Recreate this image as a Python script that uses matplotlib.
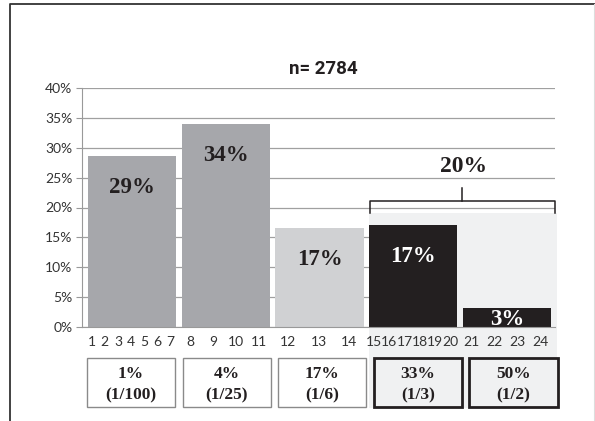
import matplotlib.pyplot as plt
import matplotlib.transforms as mtransforms
from matplotlib.patches import Rectangle
from matplotlib.lines import Line2D
import numpy as np

# survey data
n_total = 2784
shares = [28.7, 34.0, 16.6, 17.1, 3.2]
scale_points = [[1, 2, 3, 4, 5, 6, 7], [8, 9, 10, 11], [12, 13, 14],
                [15, 16, 17, 18, 19, 20], [21, 22, 23, 24]]
box_pct = ['1%', '4%', '17%', '33%', '50%']
box_odds = ['(1/100)', '(1/25)', '(1/6)', '(1/3)', '(1/2)']

bar_colors = ['#a6a7ab', '#a6a7ab', '#d0d1d3', '#231f20', '#231f20']
label_colors = ['#231f20', '#231f20', '#231f20', 'white', 'white']
dark = '#231f20'
light_bg = '#f0f1f2'

sans = ['Lato', 'DejaVu Sans']
serif = ['Liberation Serif', 'DejaVu Serif']

fig = plt.figure(figsize=(5.95, 4.21), dpi=100)
ax = fig.add_axes([82/595, 1 - 327/421, (555 - 82)/595, (327 - 88)/421])

x = np.arange(len(shares))
ax.set_xlim(-0.533, 4.512)
ax.set_ylim(0, 40)

# shaded block behind the last two categories
trans = mtransforms.blended_transform_factory(ax.transData, ax.transAxes)
ax.add_patch(Rectangle((2.528, -0.34), 2.005, 0.819, transform=trans,
                       facecolor=light_bg, edgecolor='none', zorder=1,
                       clip_on=False))

ax.bar(x, shares, width=0.94, color=bar_colors, zorder=2)

# value labels
for i, v in enumerate(shares):
    if v < 5:
        ax.text(i, 0.35, f'{round(v)}%', ha='center', va='baseline',
                fontsize=16.5, fontweight='bold', family=serif,
                color=label_colors[i], zorder=3)
    else:
        ax.text(i, v - 5.3, f'{round(v)}%', ha='center', va='center',
                fontsize=16.5, fontweight='bold', family=serif,
                color=label_colors[i], zorder=3)

# bracket over the top two categories
yb, yt = 0.479, 0.529
ax.add_line(Line2D([2.539, 2.539, 4.512, 4.512], [yb, yt, yt, yb],
                   transform=trans, color=dark, lw=1.1, zorder=3, clip_on=False))
ax.add_line(Line2D([3.52, 3.52], [yt, 0.58], transform=trans, color=dark,
                   lw=1.1, zorder=3, clip_on=False))
ax.text(3.54, 0.672, f'{round(shares[3] + shares[4])}%', transform=trans,
        ha='center', va='center', fontsize=17, fontweight='bold',
        family=serif, color=dark)

ax.text(2.04, 1.08, f'n= {n_total}', transform=trans, ha='center',
        va='center', fontsize=13.5, fontweight='bold',
        family=['Roboto', 'DejaVu Sans'], color=dark)

# axes styling
ax.set_yticks(range(0, 41, 5))
ax.set_yticklabels([f'{t}%' for t in range(0, 41, 5)], family=sans,
                   fontsize=10, color='#333333')
ax.tick_params(axis='y', length=4, width=0.8, color='#999999', pad=3)
ax.set_xticks([])
ax.grid(axis='y', color='#a0a0a0', lw=0.9, zorder=0)
ax.set_axisbelow(True)
for s in ['top', 'right']:
    ax.spines[s].set_visible(False)
ax.spines['left'].set_color('#999999')
ax.spines['bottom'].set_color('#999999')
ax.spines['left'].set_zorder(0.5)

# scale points under each bar
for i, pts in enumerate(scale_points):
    k = len(pts)
    slot = 0.98 / k
    for j, p in enumerate(pts):
        ax.text(i - 0.5 + (j + 0.5) * slot, -0.063, str(p), transform=trans,
                ha='center', va='center', fontsize=10, family=sans,
                color='#333333')

# probability boxes
for i in range(len(shares)):
    cx = i * 1.02 - 0.01
    if i >= 3:
        fc, ec, lw = light_bg, dark, 2.0
    else:
        fc, ec, lw = 'white', '#8a8a8a', 1.0
    ax.add_patch(Rectangle((cx - 0.47, -0.336), 0.94, 0.206, transform=trans,
                           facecolor=fc, edgecolor=ec, lw=lw, zorder=3,
                           clip_on=False))
    ax.text(cx, -0.198, box_pct[i], transform=trans, ha='center', va='center',
            fontsize=12.5, fontweight='bold', family=serif, color=dark, zorder=4)
    ax.text(cx, -0.285, box_odds[i], transform=trans, ha='center', va='center',
            fontsize=12.5, fontweight='bold', family=serif, color=dark, zorder=4)

# frame around the figure
fig.add_artist(Line2D([10/595, 10/595, 1], [0, 1 - 3.5/421, 1 - 3.5/421],
                      transform=fig.transFigure, color='#333333', lw=1.3))
fig.add_artist(Line2D([594/595, 594/595], [0, 1 - 3.5/421],
                      transform=fig.transFigure, color='#dddddd', lw=0.8))

fig.savefig('out.png', dpi=100)
